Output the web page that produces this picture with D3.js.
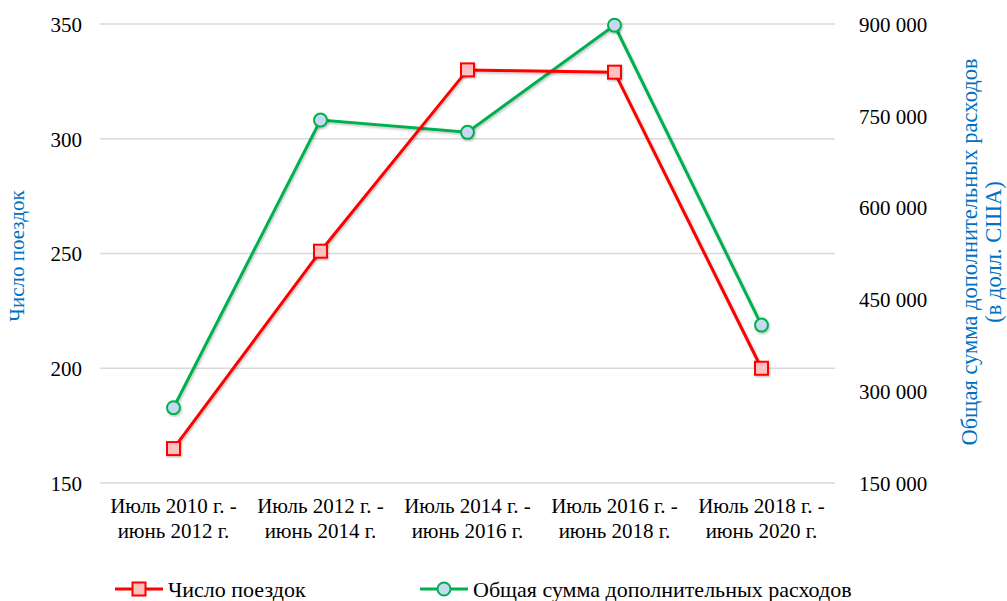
<!DOCTYPE html>
<html>
<head>
<meta charset="utf-8">
<script src="https://cdn.jsdelivr.net/npm/d3@7"></script>
<style>
  body { margin: 0; background: #fff; }
</style>
</head>
<body>
<div id="chart"></div>
<script>
const categories = [
  ['Июль 2010 г. -', 'июнь 2012 г.'],
  ['Июль 2012 г. -', 'июнь 2014 г.'],
  ['Июль 2014 г. -', 'июнь 2016 г.'],
  ['Июль 2016 г. -', 'июнь 2018 г.'],
  ['Июль 2018 г. -', 'июнь 2020 г.']
];
const trips = [165, 251, 330, 329, 200];
const spending = [273000, 743000, 723000, 898000, 408000];
const leftTicks = [150, 200, 250, 300, 350];
const rightTicks = [150000, 300000, 450000, 600000, 750000, 900000];
const tripsName = 'Число поездок';
const spendingName = 'Общая сумма дополнительных расходов';
const rightTitle = ['Общая сумма дополнительных расходов', '(в долл. США)'];

const width = 1007;
const height = 601;
const margin = {top: 24, right: 172, bottom: 118, left: 100};
const font = '"Liberation Serif", "Times New Roman", "DejaVu Serif", serif';
const blue = '#0070C0';
const red = '#FF0000';
const green = '#00B050';

const svg = d3.select('#chart')
  .append('svg')
  .attr('width', width)
  .attr('height', height)
  .attr('font-family', font);

const x = d3.scaleBand()
  .domain(d3.range(categories.length))
  .range([margin.left, width - margin.right]);

const yLeft = d3.scaleLinear()
  .domain([150, 350])
  .range([height - margin.bottom, margin.top]);

const yRight = d3.scaleLinear()
  .domain([150000, 900000])
  .range([height - margin.bottom, margin.top]);

const cx = i => x(i) + x.bandwidth() / 2;

// gridlines
svg.append('g')
  .selectAll('line')
  .data(leftTicks)
  .join('line')
  .attr('x1', margin.left)
  .attr('x2', width - margin.right)
  .attr('y1', d => yLeft(d))
  .attr('y2', d => yLeft(d))
  .attr('stroke', '#d9d9d9')
  .attr('stroke-width', 1.5);

// left axis
const leftAxis = svg.append('g')
  .attr('transform', `translate(${margin.left},0)`)
  .call(d3.axisLeft(yLeft).tickValues(leftTicks).tickSize(0).tickPadding(18))
  .attr('font-family', font);
leftAxis.select('.domain').remove();
leftAxis.selectAll('text')
  .attr('font-size', 21)
  .attr('fill', '#000')
  .attr('dy', '0.35em');

// right axis
const fmt = d => d3.format(',')(d).replace(/,/g, '\u00a0');
const rightAxis = svg.append('g')
  .attr('transform', `translate(${width - margin.right},0)`)
  .call(d3.axisRight(yRight).tickValues(rightTicks).tickFormat(fmt).tickSize(0).tickPadding(24))
  .attr('font-family', font);
rightAxis.select('.domain').remove();
rightAxis.selectAll('text')
  .attr('font-size', 21)
  .attr('fill', '#000')
  .attr('dy', '0.35em');

// x axis labels
const xLabels = svg.append('g')
  .selectAll('text')
  .data(categories)
  .join('text')
  .attr('x', (d, i) => cx(i))
  .attr('y', height - margin.bottom + 30)
  .attr('text-anchor', 'middle')
  .attr('font-size', 21)
  .attr('fill', '#000');
xLabels.selectAll('tspan')
  .data(d => d)
  .join('tspan')
  .attr('x', function () { return d3.select(this.parentNode).attr('x'); })
  .attr('dy', (d, i) => i === 0 ? 0 : 25)
  .text(d => d);

// axis titles
svg.append('text')
  .attr('transform', `translate(24,256) rotate(-90)`)
  .attr('text-anchor', 'middle')
  .attr('font-size', 21)
  .attr('fill', blue)
  .text(tripsName);

const rt = svg.append('text')
  .attr('transform', `translate(977,252) rotate(-90)`)
  .attr('text-anchor', 'middle')
  .attr('font-size', 22.5)
  .attr('fill', blue);
rt.selectAll('tspan')
  .data(rightTitle)
  .join('tspan')
  .attr('x', 0)
  .attr('dy', (d, i) => i === 0 ? 0 : 24)
  .text(d => d);

// series
const lineTrips = d3.line().x((d, i) => cx(i)).y(d => yLeft(d));
const lineSpend = d3.line().x((d, i) => cx(i)).y(d => yRight(d));

const defs = svg.append('defs');
const shadow = defs.append('filter').attr('id', 'shadow').attr('x', '-20%').attr('y', '-20%').attr('width', '140%').attr('height', '140%');
shadow.append('feDropShadow').attr('dx', 1).attr('dy', 1.5).attr('stdDeviation', 1.2).attr('flood-color', '#000').attr('flood-opacity', 0.25);

svg.append('path')
  .datum(spending)
  .attr('d', lineSpend)
  .attr('fill', 'none')
  .attr('stroke', green)
  .attr('stroke-width', 3)
  .attr('filter', 'url(#shadow)');

svg.append('path')
  .datum(trips)
  .attr('d', lineTrips)
  .attr('fill', 'none')
  .attr('stroke', red)
  .attr('stroke-width', 3)
  .attr('filter', 'url(#shadow)');

const sq = 13;
svg.append('g')
  .selectAll('rect')
  .data(trips)
  .join('rect')
  .attr('x', (d, i) => cx(i) - sq / 2)
  .attr('y', d => yLeft(d) - sq / 2)
  .attr('width', sq)
  .attr('height', sq)
  .attr('fill', '#FFC0C0')
  .attr('stroke', red)
  .attr('stroke-width', 2)
  .attr('filter', 'url(#shadow)');

svg.append('g')
  .selectAll('circle')
  .data(spending)
  .join('circle')
  .attr('cx', (d, i) => cx(i))
  .attr('cy', d => yRight(d))
  .attr('r', 6.5)
  .attr('fill', '#C6D9F1')
  .attr('stroke', green)
  .attr('stroke-width', 2)
  .attr('filter', 'url(#shadow)');

// legend
const legendY = 589;
const legendItems = [
  {name: tripsName, color: red, shape: 'rect', x: 115},
  {name: spendingName, color: green, shape: 'circle', x: 420}
];
const lg = svg.append('g')
  .selectAll('g')
  .data(legendItems)
  .join('g')
  .attr('transform', d => `translate(${d.x},${legendY})`);
lg.append('line')
  .attr('x1', 0).attr('x2', 48)
  .attr('stroke', d => d.color)
  .attr('stroke-width', 3);
lg.filter(d => d.shape === 'rect').append('rect')
  .attr('x', 24 - sq / 2).attr('y', -sq / 2)
  .attr('width', sq).attr('height', sq)
  .attr('fill', '#FFC0C0').attr('stroke', red).attr('stroke-width', 2);
lg.filter(d => d.shape === 'circle').append('circle')
  .attr('cx', 24).attr('r', 6.5)
  .attr('fill', '#C6D9F1').attr('stroke', green).attr('stroke-width', 2);
lg.append('text')
  .attr('x', 53)
  .attr('dy', '0.35em')
  .attr('font-size', 22)
  .attr('fill', '#000')
  .text(d => d.name);
</script>
</body>
</html>
